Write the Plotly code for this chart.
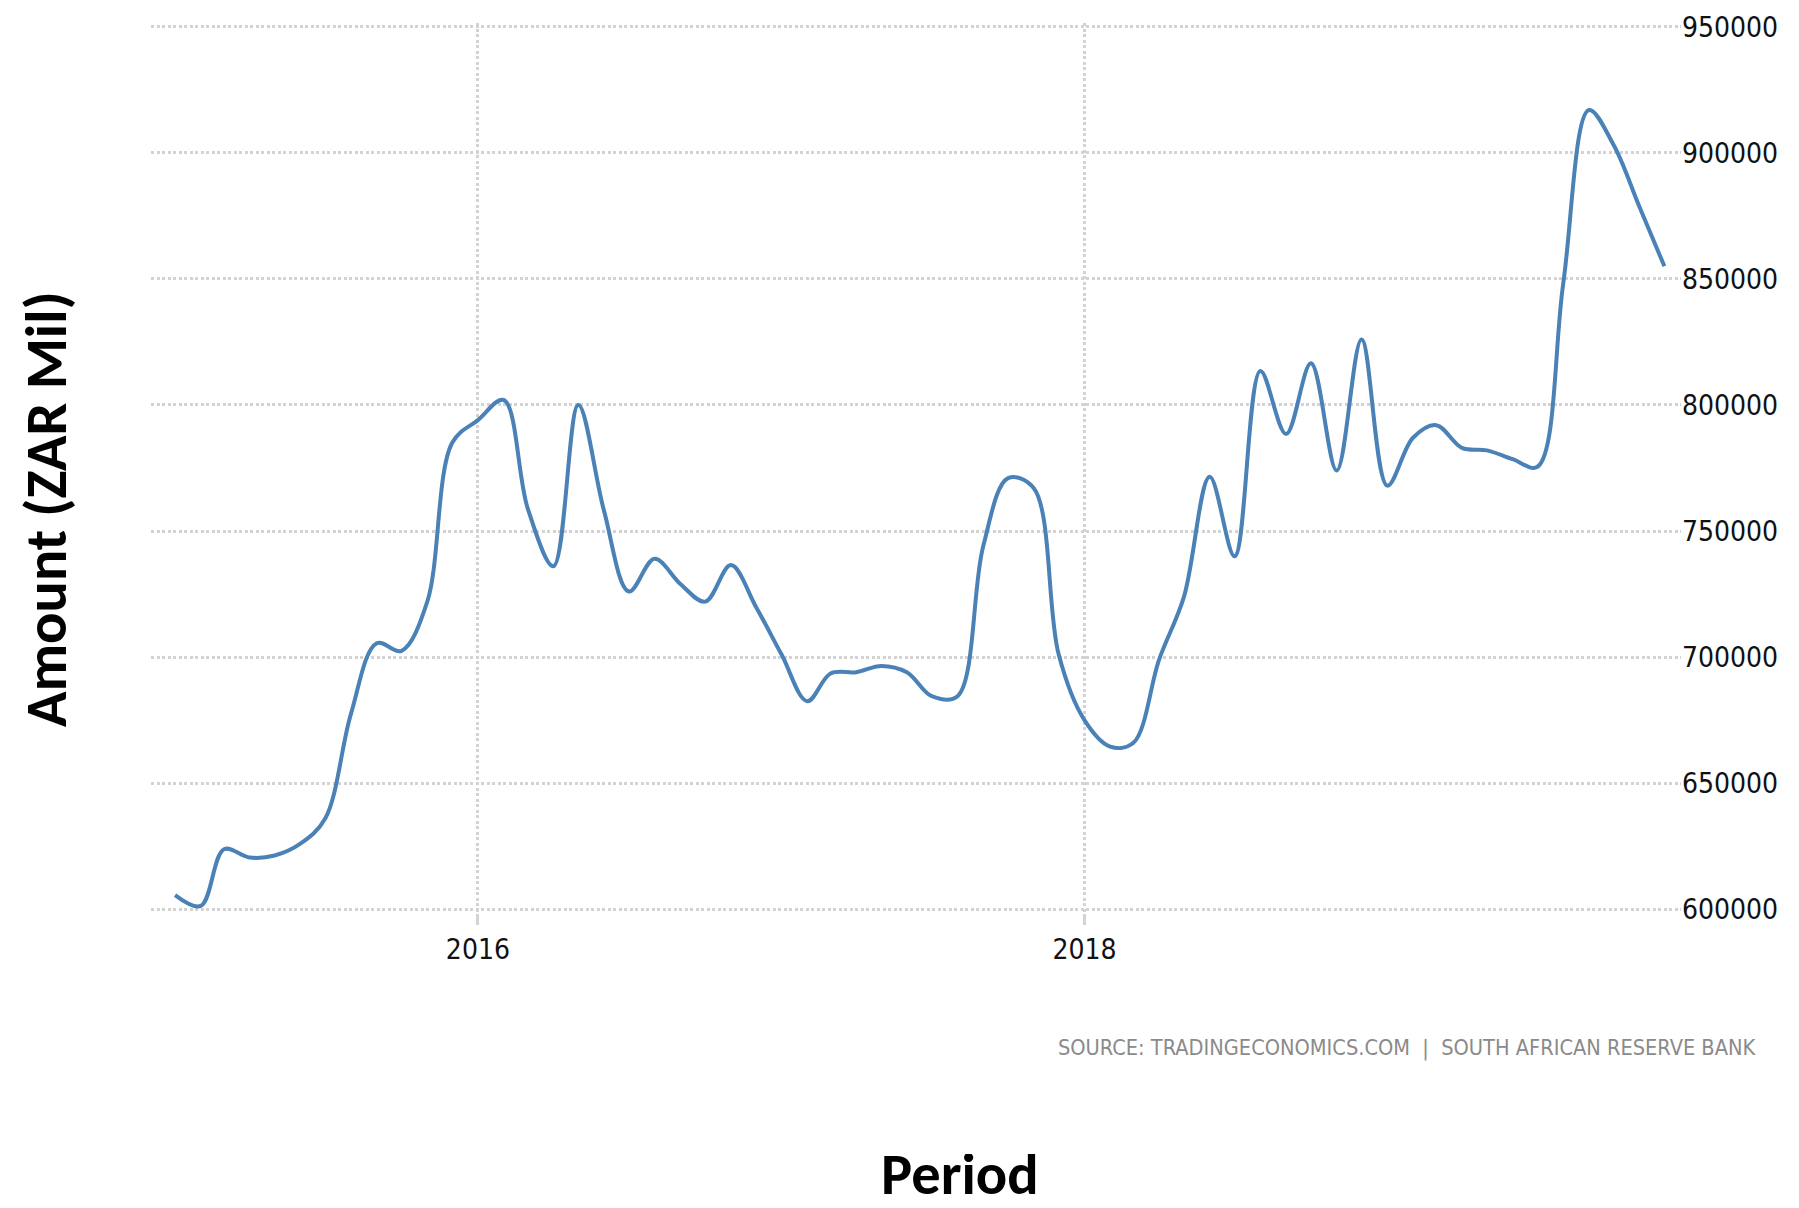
import plotly.graph_objects as go
import pandas as pd

# ---- data (monthly, Jan 2015 - Dec 2019) ----
months = [d.strftime("%Y-%m-%d") for d in pd.date_range("2015-01-01", periods=60, freq="MS")]
amount = [
    605600, 601300, 623800, 620500, 621300, 626000, 636000, 677500, 705500, 702500, 722000, 785000,
    794000, 802000, 759000, 736000, 800000, 758000, 726000, 739000, 729000, 722000, 736500, 720000,
    701000, 682500, 693500, 694000, 696500, 694000, 684500, 684500, 744000, 771000, 767000, 701000,
    675000, 664500, 666000, 699000, 724000, 771500, 740000, 813500, 788500, 816500, 774000, 826000,
    768000, 787000, 792000, 783000, 782000, 778500, 775500, 848000, 917000, 903000, 878500, 855000,
]
y_ticks = [600000, 650000, 700000, 750000, 800000, 850000, 900000, 950000]
x_title = "Period"
y_title = "Amount (ZAR Mil)"
source_text = "SOURCE: TRADINGECONOMICS.COM  |  SOUTH AFRICAN RESERVE BANK"

# ---- layout geometry (page pixels; the page body has an 8px margin) ----
OFF = 8
W, H = 1799 - 2 * OFF, 1208 - 2 * OFF - 2
plot_left, plot_right, plot_top, plot_bottom = 151, 1681, 23, 913  # page coords
L = plot_left - OFF
R = W - (plot_right - OFF)
T = plot_top - OFF
B = H - (plot_bottom - OFF)
pw, ph = W - L - R, H - T - B


def px_to_paper(px, py):
    """page pixel -> paper coords"""
    return (px - plot_left) / pw, (plot_bottom - py) / ph


narrow = "DejaVu Sans Condensed, Liberation Sans Narrow, Arial Narrow, sans-serif"
bold = "Carlito, Lato, Open Sans, sans-serif"
grid_col = "#d3d3d3"

fig = go.Figure()
fig.add_trace(go.Scatter(
    x=months, y=amount, mode="lines",
    line=dict(color="#4a81b6", width=4, shape="spline", smoothing=1.0),
    hoverinfo="x+y", showlegend=False,
))

fig.update_layout(
    width=W, height=H, autosize=False,
    margin=dict(l=L, r=R, t=T, b=B, pad=0),
    paper_bgcolor="white", plot_bgcolor="white",
    xaxis=dict(
        type="date", range=["2014-12-03", "2019-12-21"], automargin=False,
        tick0="2016-01-01", dtick="M24", tickformat="%Y",
        showgrid=True, gridcolor=grid_col, gridwidth=3, griddash="3px,2.5px",
        ticks="outside", ticklen=11, tickwidth=3, tickcolor=grid_col,
        showline=False, zeroline=False,
        tickfont=dict(family=narrow, size=28, color="#111111"),
    ),
    yaxis=dict(
        range=[598500, 951500], side="right", automargin=False,
        tickmode="array", tickvals=y_ticks, ticktext=[str(v) for v in y_ticks],
        showgrid=True, gridcolor=grid_col, gridwidth=3, griddash="3px,2.5px",
        ticks="", showline=False, zeroline=False,
        tickfont=dict(family=narrow, size=28, color="#111111"),
    ),
)

ax, ay = px_to_paper(46, 509)
fig.add_annotation(x=ax, y=ay, xref="paper", yref="paper", text=y_title, textangle=-90,
                   showarrow=False, xanchor="center", yanchor="middle",
                   font=dict(family=bold, size=58.5, color="black", weight="bold"))
bx, by = px_to_paper(960, 1174)
fig.add_annotation(x=bx, y=by, xref="paper", yref="paper", text=x_title,
                   showarrow=False, xanchor="center", yanchor="middle", height=40, valign="middle",
                   font=dict(family=bold, size=58.5, color="black", weight="bold"))
sx, sy = px_to_paper(1759, 1048)
fig.add_annotation(x=sx, y=sy, xref="paper", yref="paper", text=source_text,
                   showarrow=False, xanchor="right", yanchor="middle",
                   font=dict(family=narrow, size=21.6, color="#8a8a8a"))

fig.write_html("out.html")
